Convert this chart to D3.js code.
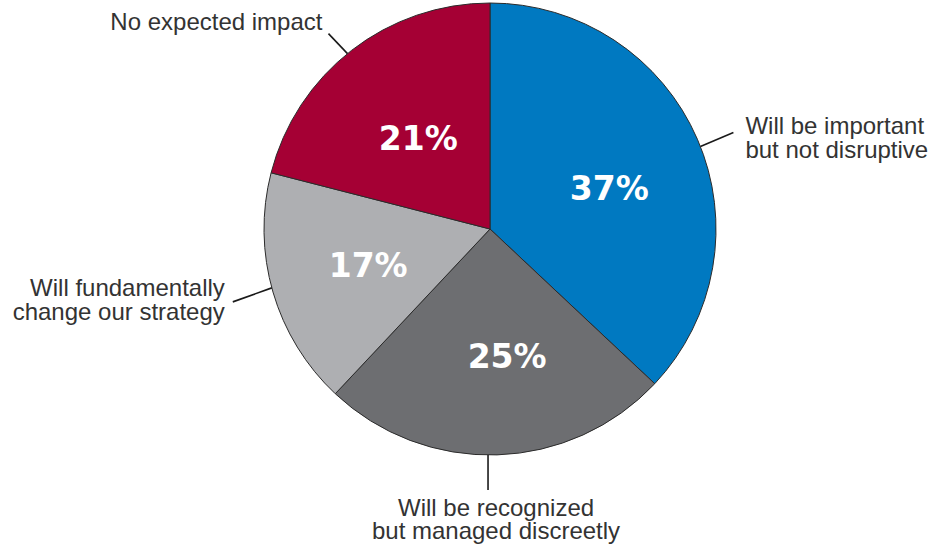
<!DOCTYPE html>
<html><head><meta charset="utf-8">
<script src="https://cdn.jsdelivr.net/npm/d3@7"></script>
<style>body{margin:0;background:#fff}svg{display:block}</style>
</head><body>
<svg id="chart" width="938" height="552"></svg>
<script>
const categories = ["Will be important but not disruptive","Will be recognized but managed discreetly","Will fundamentally change our strategy","No expected impact"];
const values = [37, 25, 17, 21];
const valueLabels = ["37%","25%","17%","21%"];
const labelLines = [["Will be important","but not disruptive"],["Will be recognized","but managed discreetly"],["Will fundamentally","change our strategy"],["No expected impact"]];
const colors = ["#0079c1","#6d6e71","#aeafb2","#a50034"];

const svg = d3.select("#chart");
const cx = 490, cy = 229, R = 226;
const g = svg.append("g").attr("transform", `translate(${cx},${cy})`);
const pie = d3.pie().sort(null).value(d => d);
const arcs = pie(values);
const arc = d3.arc().innerRadius(0).outerRadius(R);

g.selectAll("path.slice").data(arcs).join("path")
  .attr("class","slice")
  .attr("d", arc)
  .attr("fill", (d,i) => colors[i])
  .attr("stroke", "#2b2b2b").attr("stroke-width", 1);

// percentage label placement: angle offset from mid angle (deg) and radius
const pctLayout = [{da: 4.6, r: 126}, {da: -5.9, r: 128}, {da: -0.2, r: 127}, {da: -0.4, r: 116}];
g.selectAll("text.pct").data(arcs).join("text")
  .attr("class","pct")
  .attr("transform", (d,i) => {
    const a = (d.startAngle + d.endAngle)/2 + pctLayout[i].da*Math.PI/180;
    const r = pctLayout[i].r;
    return `translate(${r*Math.sin(a)},${-r*Math.cos(a)})`;
  })
  .attr("text-anchor","middle").attr("dy","0.365em")
  .attr("font-family","DejaVu Sans, Arial, sans-serif")
  .attr("font-weight","bold").attr("font-size", 33)
  .attr("fill","#fff")
  .text((d,i) => valueLabels[i]);

// leader layout: angle offset from mid angle (deg), direction vector, text anchor & offsets
const layout = [
  {da: 2, dir: [33,-14], anchor:"start", tx: 12, ty: 1.5, lh: 24},
  {da: 2.3, dir: [0,35], anchor:"middle", tx: 8, ty: 26, lh: 23.5},
  {da: 1.1, dir: [-39,14], anchor:"end", tx: -8, ty: -6, lh: 24},
  {da: -1.3, dir: [-19,-20], anchor:"end", tx: -6, ty: -3.6, lh: 24}
];
const font = "Liberation Sans, Arial, sans-serif";
arcs.forEach((d,i) => {
  const L = layout[i];
  const a = (d.startAngle + d.endAngle)/2 + L.da*Math.PI/180;
  const x0 = R*Math.sin(a), y0 = -R*Math.cos(a);
  const x1 = x0 + L.dir[0], y1 = y0 + L.dir[1];
  g.append("line").attr("x1",x0).attr("y1",y0).attr("x2",x1).attr("y2",y1)
    .attr("stroke","#1a1a1a").attr("stroke-width",1.6);
  const t = g.append("text")
    .attr("font-family", font).attr("font-size", 24).attr("fill","#333")
    .attr("text-anchor", L.anchor);
  const lines = labelLines[i];
  const baseY = y1 + L.ty;
  lines.forEach((s,k) => {
    t.append("tspan").attr("x", x1 + L.tx).attr("y", baseY + k*L.lh).text(s);
  });
});
</script>
</body></html>
